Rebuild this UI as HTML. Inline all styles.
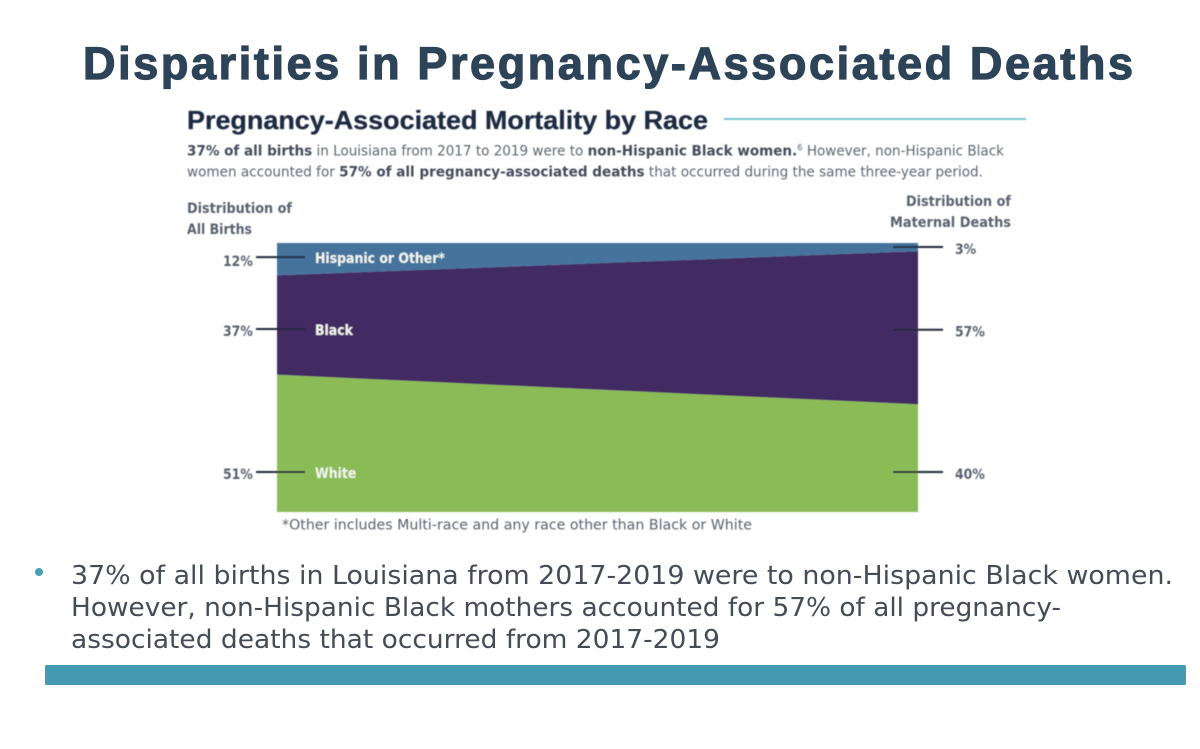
<!DOCTYPE html>
<html lang="en">
<head>
<meta charset="utf-8">
<title>Disparities in Pregnancy-Associated Deaths</title>
<style>
  html, body { margin: 0; padding: 0; background: #fff; }
  body { width: 1200px; height: 749px; overflow: hidden; }
  svg { display: block; }
  text { font-family: "Liberation Sans", sans-serif; }
  .dj { font-family: "DejaVu Sans", sans-serif; }
</style>
</head>
<body>
<svg id="slide" width="1200" height="749" viewBox="0 0 1200 749" xmlns="http://www.w3.org/2000/svg">
  <defs>
    <filter id="soft" x="-5%" y="-5%" width="110%" height="110%"><feGaussianBlur stdDeviation="0.4"/></filter>
  </defs>
  <rect x="0" y="0" width="1200" height="749" fill="#ffffff"/>

  <text x="83" y="79" font-size="45" font-weight="700" fill="#2d4358" stroke="#2d4358" stroke-width="1.2" textLength="1050" lengthAdjust="spacing">Disparities in Pregnancy-Associated Deaths</text>

  <g id="figure" filter="url(#soft)">
    <text x="187" y="129" font-size="26" font-weight="700" fill="#1e2a42" stroke="#1e2a42" stroke-width="0.3" textLength="521" lengthAdjust="spacingAndGlyphs">Pregnancy-Associated Mortality by Race</text>
    <line x1="724" y1="119" x2="1026" y2="119" stroke="#7cc4cf" stroke-width="2"/>

    <text class="dj" x="187" y="155.5" font-size="14.5" fill="#5f6572" textLength="817" lengthAdjust="spacingAndGlyphs"><tspan font-weight="700" fill="#454b5b">37% of all births</tspan> in Louisiana from 2017 to 2019 were to <tspan font-weight="700" fill="#454b5b">non-Hispanic Black women.</tspan><tspan font-size="9" dy="-5">6</tspan><tspan dy="5"> However, non-Hispanic Black</tspan></text>
    <text class="dj" x="187" y="176.5" font-size="14.5" fill="#5f6572" textLength="796" lengthAdjust="spacingAndGlyphs">women accounted for <tspan font-weight="700" fill="#454b5b">57% of all pregnancy-associated deaths</tspan> that occurred during the same three-year period.</text>

    <text class="dj" x="187" y="213" font-size="14" font-weight="700" fill="#5a6070" textLength="105" lengthAdjust="spacingAndGlyphs">Distribution of</text>
    <text class="dj" x="187" y="234" font-size="14" font-weight="700" fill="#5a6070" textLength="65" lengthAdjust="spacingAndGlyphs">All Births</text>
    <text class="dj" x="906" y="206" font-size="14" font-weight="700" fill="#5a6070" textLength="105" lengthAdjust="spacingAndGlyphs">Distribution of</text>
    <text class="dj" x="890" y="227" font-size="14" font-weight="700" fill="#5a6070" textLength="121" lengthAdjust="spacingAndGlyphs">Maternal Deaths</text>

    <g id="plot"></g>

    <text class="dj" x="282" y="529.5" font-size="14.5" fill="#5a606d" textLength="470" lengthAdjust="spacingAndGlyphs">*Other includes Multi-race and any race other than Black or White</text>
  </g>

  <circle cx="39" cy="572" r="4" fill="#4a9fb5"/>
  <text class="dj" x="71" y="584" font-size="25.5" fill="#454b57" textLength="1102" lengthAdjust="spacingAndGlyphs">37% of all births in Louisiana from 2017-2019 were to non-Hispanic Black women.</text>
  <text class="dj" x="71" y="616" font-size="25.5" fill="#454b57" textLength="990" lengthAdjust="spacingAndGlyphs">However, non-Hispanic Black mothers accounted for 57% of all pregnancy-</text>
  <text class="dj" x="71" y="648" font-size="25.5" fill="#454b57" textLength="649" lengthAdjust="spacingAndGlyphs">associated deaths that occurred from 2017-2019</text>

  <rect x="45" y="665" width="1141" height="20" rx="1.5" fill="#4699b3"/>
</svg>

<script>
const categories = ["White", "Black", "Hispanic or Other*"];
const birthsShare = [51, 37, 12];
const deathsShare = [40, 57, 3];
const birthLabels = ["51%", "37%", "12%"];
const deathLabels = ["40%", "57%", "3%"];

const SVG_NS = "http://www.w3.org/2000/svg";
const plot = document.getElementById("plot");
const seriesColors = ["#8bbb57", "#432a63", "#44739c"];
const plotLeft = 277, plotRight = 918, plotTop = 243, plotBottom = 512;

function yScale(value) {
  return plotBottom - (value / 100) * (plotBottom - plotTop);
}

function make(tag, attrs, parent) {
  const el = document.createElementNS(SVG_NS, tag);
  Object.keys(attrs).forEach(function (k) { el.setAttribute(k, attrs[k]); });
  parent.appendChild(el);
  return el;
}

// Condense DejaVu Bold toward the narrower face of the source figure
function condense(el) {
  el.setAttribute("textLength", (el.getComputedTextLength() * 0.89).toFixed(1));
  el.setAttribute("lengthAdjust", "spacingAndGlyphs");
}

// Where the leader line sits inside a band: the source places rows by hand
function leftRowY(i, lower, upper) {
  if (i === 0) return yScale(lower) - 40;
  if (i === 1) return (yScale(lower) + yScale(upper)) / 2 + 4;
  return (yScale(lower) + yScale(upper)) / 2 - 2;
}
function rightRowY(i, lower, upper) {
  if (i === 0) return yScale(lower) - 40;
  if (i === 1) return (yScale(lower) + yScale(upper)) / 2 + 2;
  return (yScale(lower) + yScale(upper)) / 2;
}

let cumBirths = 0, cumDeaths = 0;
categories.forEach(function (name, i) {
  const b0 = cumBirths, d0 = cumDeaths;
  const b1 = b0 + birthsShare[i], d1 = d0 + deathsShare[i];
  const points = [
    plotLeft + "," + yScale(b0),
    plotRight + "," + yScale(d0),
    plotRight + "," + yScale(d1),
    plotLeft + "," + yScale(b1)
  ].join(" ");
  const band = make("polygon", { points: points, fill: seriesColors[i] }, plot);
  
  
  cumBirths = b1;
  cumDeaths = d1;
});

cumBirths = 0; cumDeaths = 0;
categories.forEach(function (name, i) {
  const ly = leftRowY(i, cumBirths, cumBirths + birthsShare[i]);
  const ry = rightRowY(i, cumDeaths, cumDeaths + deathsShare[i]);

  const leftLine = make("line", { x1: 256, y1: ly, x2: 305, y2: ly, stroke: "#232a3d", "stroke-width": 2 }, plot);
  
  

  const rightLine = make("line", { x1: 893, y1: ry, x2: 943, y2: ry, stroke: "#232a3d", "stroke-width": 2 }, plot);
  
  

  const leftLabel = make("text", { x: 223, y: ly + (i === 2 ? 9 : 7), "font-size": 14, "font-weight": 700, fill: "#5a6070", "class": "dj" }, plot);
  leftLabel.textContent = birthLabels[i];
  
  
  condense(leftLabel);

  const rightLabel = make("text", { x: 955, y: ry + 7, "font-size": 14, "font-weight": 700, fill: "#5a6070", "class": "dj" }, plot);
  rightLabel.textContent = deathLabels[i];
  
  
  condense(rightLabel);

  const seriesLabel = make("text", { x: 315, y: ly + 6, "font-size": 14, "font-weight": 700, fill: "#f2f5ee", "class": "dj" }, plot);
  seriesLabel.textContent = name;
  
  
  condense(seriesLabel);

  cumBirths += birthsShare[i];
  cumDeaths += deathsShare[i];
});
</script>
</body>
</html>
